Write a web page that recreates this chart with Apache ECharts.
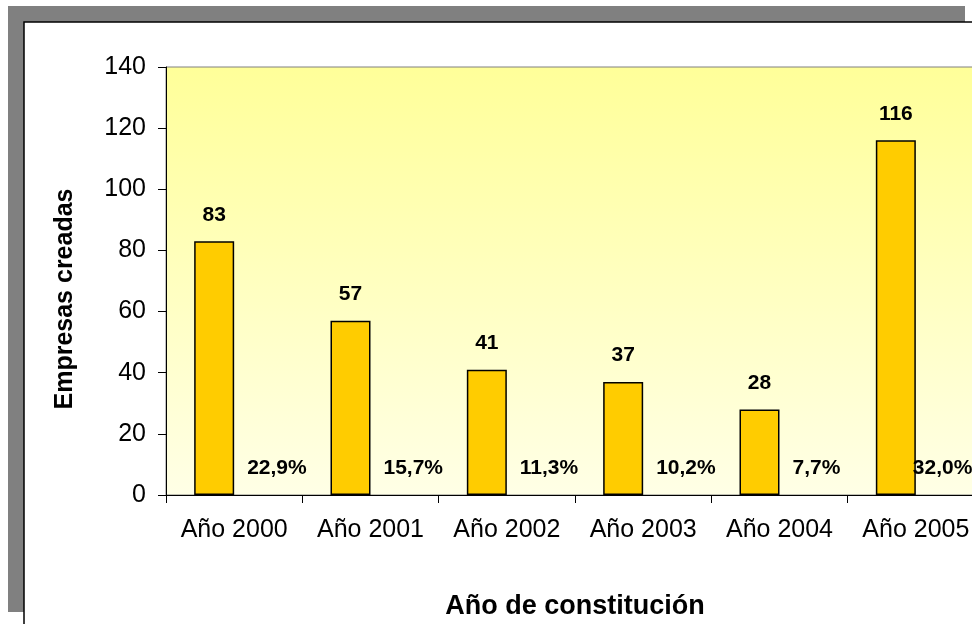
<!DOCTYPE html>
<html>
<head>
<meta charset="utf-8">
<title>Empresas creadas</title>
<script src="https://cdn.jsdelivr.net/npm/echarts@6/dist/echarts.min.js"></script>
<style>
    html, body { margin: 0; padding: 0; background: #fff; overflow: hidden; }
    #chart { width: 1000px; height: 624px; }
</style>
</head>
<body>
<div id="chart"></div>
<script>
var categorias = ['Año 2000', 'Año 2001', 'Año 2002', 'Año 2003', 'Año 2004', 'Año 2005'];
var empresas = [83, 57, 41, 37, 28, 116];
var porcentajes = [22.9, 15.7, 11.3, 10.2, 7.7, 32.0];
var ticksY = [0, 20, 40, 60, 80, 100, 120, 140];

var fuente = "'Liberation Sans', Arial, sans-serif";

var myChart = echarts.init(document.getElementById('chart'));

// porcentajes: serie invisible, solo la etiqueta
var pctData = [];
for (var i in porcentajes) {
    pctData.push({
        value: 0,
        label: { offset: i == porcentajes.length - 1 ? [-23, 0] : [-7, 0] }
    });
}

var option = {
    animation: false,
    graphic: [
        // sombra gris del marco
        {
            type: 'rect',
            z: -10,
            shape: { x: 8, y: 6, width: 957, height: 606 },
            style: { fill: '#808080' }
        },
        // panel blanco
        {
            type: 'rect',
            z: -9,
            shape: { x: 24, y: 22, width: 1000, height: 700 },
            style: { fill: '#ffffff', stroke: '#000000', lineWidth: 1.5 }
        }
    ],
    grid: {
        left: 166,
        top: 67,
        width: 818,
        height: 428,
        outerBoundsMode: 'none',
        containLabel: false,
        show: true,
        borderColor: '#808080',
        borderWidth: 1,
        backgroundColor: new echarts.graphic.LinearGradient(0, 0, 0, 1, [
            { offset: 0, color: '#ffff99' },
            { offset: 1, color: '#ffffe6' }
        ])
    },
    xAxis: {
        type: 'category',
        data: categorias,
        name: 'Año de constitución',
        nameLocation: 'middle',
        nameGap: 98,
        nameTextStyle: { fontFamily: fuente, fontSize: 27, fontWeight: 'bold', color: '#000' },
        axisLine: { lineStyle: { color: '#000', width: 1 } },
        axisTick: { show: true, length: 8, lineStyle: { color: '#000' } },
        axisLabel: { fontFamily: fuente, fontSize: 25, color: '#000', margin: 23, interval: 0 },
        splitLine: { show: false }
    },
    yAxis: {
        type: 'value',
        min: ticksY[0],
        max: ticksY[ticksY.length - 1],
        interval: 20,
        name: 'Empresas creadas',
        nameLocation: 'middle',
        nameRotate: 90,
        nameGap: 88,
        nameTextStyle: {
            fontFamily: fuente, fontSize: 25, fontWeight: 'bold', color: '#000',
            padding: [0, 36, 0, 0]
        },
        axisLine: { show: true, lineStyle: { color: '#000', width: 1 } },
        axisTick: { show: true, length: 8, lineStyle: { color: '#000' } },
        axisLabel: { fontFamily: fuente, fontSize: 25, color: '#000', margin: 20 },
        splitLine: { show: false }
    },
    series: [
        {
            name: 'Empresas',
            type: 'bar',
            barWidth: 40,
            barGap: '0%',
            data: empresas,
            itemStyle: { color: '#ffcc00', borderColor: '#000', borderWidth: 1.5 },
            label: {
                show: true,
                position: 'top',
                distance: 16,
                fontFamily: fuente,
                fontSize: 21,
                fontWeight: 'bold',
                color: '#000'
            }
        },
        {
            name: 'Porcentaje',
            type: 'bar',
            barWidth: 40,
            data: pctData,
            itemStyle: { color: 'transparent' },
            label: {
                show: true,
                position: 'top',
                align: 'left',
                distance: 16,
                fontFamily: fuente,
                fontSize: 21,
                fontWeight: 'bold',
                color: '#000',
                formatter: function (p) {
                    return porcentajes[p.dataIndex].toFixed(1).replace('.', ',') + '%';
                }
            }
        }
    ]
};
myChart.setOption(option);
</script>
</body>
</html>
